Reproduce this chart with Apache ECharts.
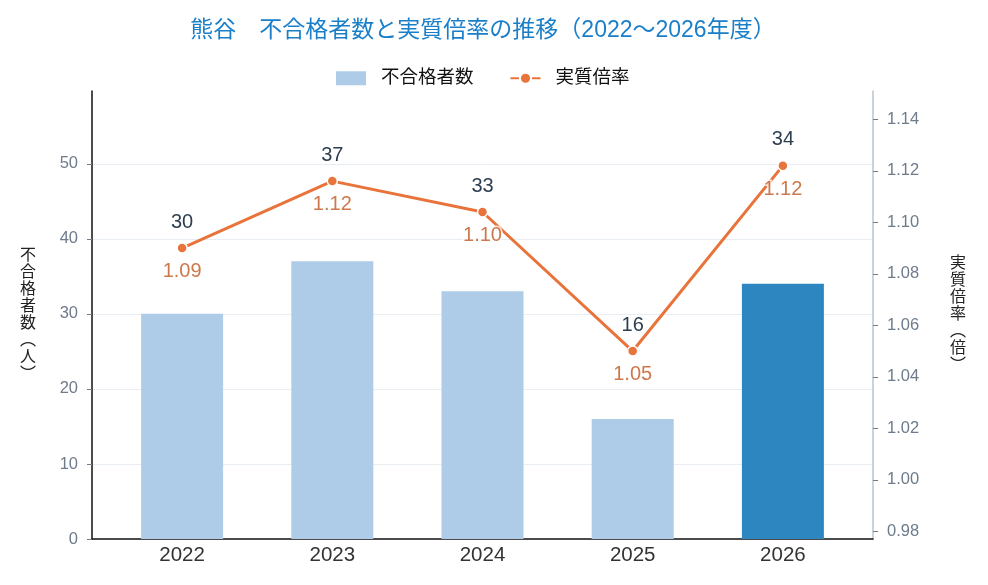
<!DOCTYPE html>
<html>
<head>
<meta charset="utf-8">
<script src="https://cdn.jsdelivr.net/npm/echarts@6/dist/echarts.min.js"></script>
<style>
  html, body { margin: 0; padding: 0; background: #fff; }
  #main { width: 988px; height: 585px; }
</style>
</head>
<body>
<div id="main"></div>
<script>
// データ
var years = ['2022', '2023', '2024', '2025', '2026'];
var failCounts = [30, 37, 33, 16, 34];
var realRates = [1.090, 1.116, 1.104, 1.050, 1.122];

var FONT = '"Liberation Sans", "Noto Sans CJK JP", sans-serif';
var barLight = '#aecbe7';
var barDark = '#2e86c1';
var orange = '#e8743b';

var dom = document.getElementById('main');
var myChart = echarts.init(dom);

var barData = failCounts.map(function (v, i) {
    return {
        value: [i, v],
        itemStyle: { color: i === years.length - 1 ? barDark : barLight }
    };
});
var lineData = realRates.map(function (v, i) { return [i, v]; });

option = {
    animation: false,
    textStyle: { fontFamily: FONT },
    title: {
        text: '熊谷　不合格者数と実質倍率の推移（2022〜2026年度）',
        left: 478,
        textAlign: 'center',
        top: 14,
        textStyle: { color: '#1a7fc9', fontSize: 23, fontWeight: 'normal', fontFamily: FONT }
    },
    legend: {
        top: 64,
        left: 331,
        itemWidth: 30,
        itemHeight: 14,
        itemGap: 36,
        textStyle: { color: '#111', fontSize: 18.5, fontFamily: FONT, padding: [0, 0, 0, 10] },
        data: [
            { name: '不合格者数', icon: 'rect', itemStyle: { color: barLight } },
            { name: '実質倍率' }
        ]
    },
    grid: { left: 92, right: 115, top: 91, bottom: 46 },
    xAxis: {
        type: 'value',
        min: -0.6,
        max: 4.6,
        splitLine: { show: false },
        axisTick: { show: false },
        axisLine: { show: true, onZero: false, lineStyle: { color: '#111', width: 1.5 } },
        axisLabel: {
            showMinLabel: false,
            showMaxLabel: false,
            color: '#333',
            fontSize: 20.5,
            margin: 6,
            formatter: function (v) {
                return Number.isInteger(v) && years[v] ? years[v] : '';
            }
        }
    },
    yAxis: [
        {
            type: 'value',
            min: 0,
            max: 59.7,
            name: '不\n合\n格\n者\n数\n︵\n人\n︶',
            nameLocation: 'middle',
            nameRotate: 0,
            nameGap: 56,
            nameTextStyle: { color: '#222', fontSize: 16, lineHeight: 17 },
            axisLine: { show: true, onZero: false, lineStyle: { color: '#111', width: 1.5 } },
            axisTick: { show: true, length: 5, lineStyle: { color: '#6e7b8b' } },
            axisLabel: { color: '#6e7b8b', fontSize: 16.5, margin: 14, showMaxLabel: false },
            splitLine: { show: true, showMinLine: false, showMaxLine: false, lineStyle: { color: '#e8edf4' } }
        },
        {
            type: 'value',
            min: 0.977,
            max: 1.151,
            splitNumber: 8,
            name: '実\n質\n倍\n率\n︵\n倍\n︶',
            nameLocation: 'middle',
            nameRotate: 0,
            nameGap: 77,
            nameTextStyle: { color: '#222', fontSize: 16, lineHeight: 17 },
            axisLine: { show: true, onZero: false, lineStyle: { color: '#b8c3ce', width: 1.5 } },
            axisTick: { show: true, length: 5, lineStyle: { color: '#6e7b8b' } },
            axisLabel: {
                color: '#6e7b8b', fontSize: 16.5, margin: 14,
                showMinLabel: false, showMaxLabel: false,
                formatter: function (v) { return v.toFixed(2); }
            },
            splitLine: { show: false }
        }
    ],
    series: [
        {
            name: '不合格者数',
            type: 'bar',
            yAxisIndex: 0,
            barWidth: 82,
            data: barData
        },
        {
            name: '実質倍率',
            type: 'line',
            yAxisIndex: 1,
            z: 5,
            data: lineData,
            symbol: 'circle',
            symbolSize: 10,
            itemStyle: { color: orange, borderColor: '#fff', borderWidth: 1.5 },
            lineStyle: { color: orange, width: 3 },
            label: {
                show: true,
                position: 'top',
                distance: 10,
                color: '#2c3e50',
                fontSize: 20,
                textBorderColor: '#fff',
                textBorderWidth: 3,
                formatter: function (p) { return failCounts[p.dataIndex]; }
            }
        },
        {
            name: '倍率ラベル',
            type: 'scatter',
            yAxisIndex: 1,
            z: 6,
            symbolSize: 1,
            itemStyle: { color: 'rgba(0,0,0,0)' },
            data: lineData,
            label: {
                show: true,
                position: 'bottom',
                distance: 13,
                color: '#c0561f',
                fontSize: 20,
                textBorderColor: '#fff',
                textBorderWidth: 3,
                formatter: function (p) { return realRates[p.dataIndex].toFixed(2); }
            }
        }
    ]
};
myChart.setOption(option);
</script>
</body>
</html>
